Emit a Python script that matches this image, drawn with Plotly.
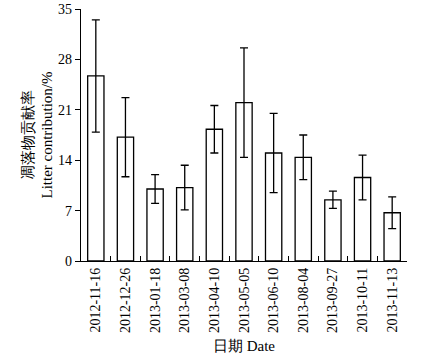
import plotly.graph_objects as go

dates = ["2012-11-16", "2012-12-26", "2013-01-18", "2013-03-08", "2013-04-10",
         "2013-05-05", "2013-06-10", "2013-08-04", "2013-09-27", "2013-10-11", "2013-11-13"]
values = [25.7, 17.2, 10.0, 10.2, 18.3, 22.0, 15.0, 14.4, 8.5, 11.6, 6.7]
errors = [7.8, 5.5, 2.0, 3.1, 3.3, 7.6, 5.5, 3.1, 1.2, 3.1, 2.2]
yticks = [0, 7, 14, 21, 28, 35]

font = "Liberation Serif, Times New Roman, serif"

fig = go.Figure(go.Bar(
    x=dates, y=values,
    width=0.55,
    marker=dict(color="white", line=dict(color="black", width=1.3)),
    error_y=dict(type="data", array=errors, color="black", thickness=1.3, width=4),
))

fig.update_layout(
    width=423, height=363,
    margin=dict(l=81, r=16, t=9, b=102, autoexpand=False),
    paper_bgcolor="white", plot_bgcolor="white",
    showlegend=False,
    font=dict(family=font, size=14, color="black"),
)
fig.update_xaxes(
    type="category", automargin=False,
    showline=True, linecolor="black", linewidth=1.3,
    ticks="inside", tickson="boundaries", ticklen=5, tickcolor="black", tickwidth=1.2,
    tickangle=-90, tickfont=dict(family=font, size=14),
    showgrid=False, zeroline=False,
    title=dict(text="日期 Date", font=dict(family=font, size=15), standoff=8),
)
fig.update_yaxes(
    range=[0, 35], tickvals=yticks, automargin=False,
    showline=True, linecolor="black", linewidth=1.3,
    ticks="outside", ticklen=5, tickcolor="black", tickwidth=1.2,
    tickfont=dict(family=font, size=14), ticklabeloverflow="allow",
    showgrid=False, zeroline=False,
    title=dict(text="凋落物贡献率<br>Litter contribution/%", font=dict(family=font, size=15), standoff=1),
)

fig.write_html("out.html", config={"displayModeBar": False},
               post_script="document.body.style.margin='0';")
